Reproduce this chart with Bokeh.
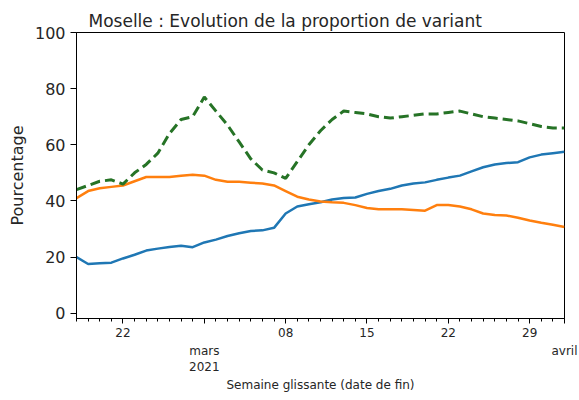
import pandas as pd
from bokeh.plotting import figure
from bokeh.models import Range1d, FixedTicker, LinearAxis
from bokeh.embed import file_html
from bokeh.resources import INLINE

# ---- data ----
start_date = "2021-02-18"
end_date = "2021-04-01"
dates = pd.date_range(start_date, end_date, freq="D")

green_vals = [44, 45.5, 47, 47.5, 46, 50, 53, 57, 64, 69, 70, 77, 72, 67, 61, 55,
              51, 50, 48, 54, 60, 65, 69, 72, 71.5, 71, 70, 69.5, 70, 70.5, 71, 71,
              71.5, 72, 71, 70, 69.5, 69, 68.5, 67.5, 66.5, 66, 66]
orange_vals = [41, 43.5, 44.5, 45, 45.5, 47, 48.5, 48.5, 48.5, 49, 49.3, 49, 47.5,
               46.8, 46.8, 46.5, 46.2, 45.5, 43.5, 41.5, 40.5, 39.8, 39.5, 39.3,
               38.5, 37.5, 37, 37, 37, 36.8, 36.5, 38.5, 38.5, 38, 37, 35.5, 35,
               34.8, 34, 33, 32.2, 31.5, 30.7]
blue_vals = [20, 17.5, 17.8, 18, 19.5, 20.8, 22.3, 23, 23.6, 24, 23.5, 25.2, 26.2,
             27.5, 28.5, 29.3, 29.5, 30.4, 35.5, 38, 38.8, 39.5, 40.5, 41, 41.2,
             42.5, 43.5, 44.3, 45.5, 46.2, 46.6, 47.5, 48.3, 49, 50.5, 52, 53,
             53.5, 53.8, 55.5, 56.5, 57, 57.5]

day_tick_dates = ["2021-02-22", "2021-03-01", "2021-03-08", "2021-03-15",
                  "2021-03-22", "2021-03-29", "2021-04-01"]
day_tick_labels = ["22", "", "08", "15", "22", "29", ""]
month_tick_dates = ["2021-03-01", "2021-04-01"]
month_tick_labels = ["mars\n2021", "avril"]
y_ticks = [0, 20, 40, 60, 80, 100]

title_text = "Moselle : Evolution de la proportion de variant"
x_label = "Semaine glissante (date de fin)"
y_label = "Pourcentage"


def ms(d):
    return float(pd.Timestamp(d).value // 10**6)


FONT = "DejaVu Sans"
TXT = "#262626"

p = figure(width=579, height=400, x_axis_type="datetime",
           x_range=Range1d(ms(start_date), ms(end_date)),
           y_range=Range1d(-1.9, 100),
           output_backend="svg", toolbar_location=None,
           min_border_left=76, min_border_right=15, min_border_top=32,
           min_border_bottom=82)

p.title.text = title_text
p.title.text_font = FONT
p.title.text_font_size = "17px"
p.title.text_font_style = "normal"
p.title.text_color = TXT
p.title.align = "left"
p.title.offset = 12
p.title.standoff = 3

p.grid.visible = False
p.outline_line_color = "black"
p.outline_line_width = 1
p.background_fill_color = "white"
p.border_fill_color = "white"

xs = [ms(d) for d in dates]
p.line(xs, blue_vals, line_color="#1f77b4", line_width=2.5)
p.line(xs, orange_vals, line_color="#ff7f0e", line_width=2.5)
p.line(xs, green_vals, line_color="#267326", line_width=3, line_dash="10 5")

# y axis
ya = p.yaxis[0]
ya.ticker = FixedTicker(ticks=y_ticks)
ya.minor_tick_line_color = None
ya.major_tick_out = 6
ya.major_tick_in = 0
ya.major_label_standoff = 5
ya.major_label_text_font = FONT
ya.major_label_text_font_size = "16px"
ya.major_label_text_color = TXT
ya.axis_label = y_label
ya.axis_label_text_font = FONT
ya.axis_label_text_font_size = "16px"
ya.axis_label_text_font_style = "normal"
ya.axis_label_text_color = TXT
ya.axis_label_standoff = 5

# x axis (days)
xa = p.xaxis[0]
day_ticks = [ms(d) for d in day_tick_dates]
xa.ticker = FixedTicker(ticks=day_ticks, minor_ticks=xs)
xa.major_label_overrides = {t: l for t, l in zip(day_ticks, day_tick_labels)}
xa.major_tick_out = 5
xa.major_tick_in = 0
xa.minor_tick_out = 3
xa.minor_tick_in = 0
xa.major_label_standoff = 4
xa.major_label_text_font = FONT
xa.major_label_text_font_size = "12px"
xa.major_label_text_color = TXT

# x axis (months)
month_ticks = [ms(d) for d in month_tick_dates]
xm = LinearAxis(ticker=FixedTicker(ticks=month_ticks))
xm.major_label_overrides = {t: l for t, l in zip(month_ticks, month_tick_labels)}
xm.axis_line_color = None
xm.major_tick_line_color = None
xm.minor_tick_line_color = None
xm.major_tick_out = 0
xm.major_tick_in = 0
xm.major_label_standoff = 4
xm.major_label_text_font = FONT
xm.major_label_text_font_size = "12px"
xm.major_label_text_color = TXT
xm.axis_label = x_label
xm.axis_label_text_font = FONT
xm.axis_label_text_font_size = "12px"
xm.axis_label_text_font_style = "normal"
xm.axis_label_text_color = TXT
xm.axis_label_standoff = 1
p.add_layout(xm, "below")

open("out.html", "w").write(file_html(p, INLINE))
